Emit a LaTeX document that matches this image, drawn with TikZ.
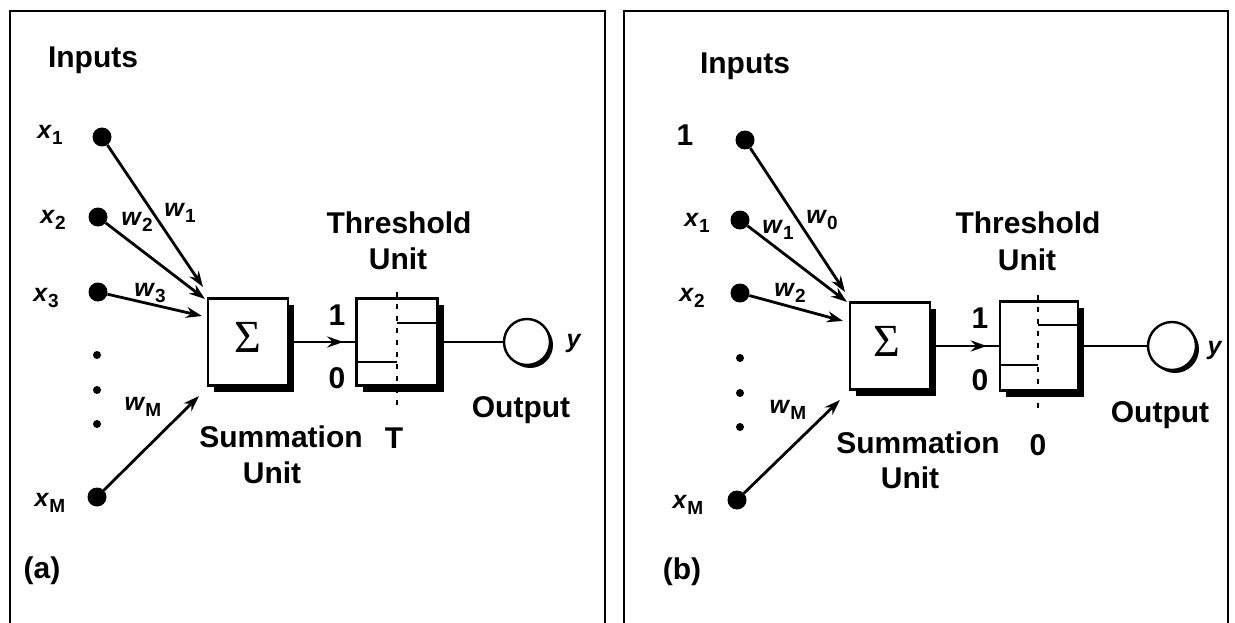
\documentclass[tikz,border=0pt]{standalone}
\usepackage{fontspec}
\setmainfont{Liberation Sans}
\newfontfamily\sigfont{Liberation Serif}
\usetikzlibrary{arrows.meta,shadows}
\newcommand{\vlab}[2]{\textit{#1}\raisebox{-6pt}{\fontsize{19}{19}\selectfont\upshape #2}}
\begin{document}
\begin{tikzpicture}[x=1pt,y=-1pt,
  lbl/.style={font=\fontsize{30}{32}\selectfont\bfseries, inner sep=0},
  vl/.style={font=\fontsize{25}{27}\selectfont\bfseries, inner sep=0},
  sig/.style={font=\fontsize{46}{46}\sigfont, inner sep=0},
  dotbig/.style={circle, fill, inner sep=0, minimum size=19pt},
  dotsmall/.style={circle, fill, inner sep=0, minimum size=8pt},
  conn/.style={line width=2.8pt},
  arr/.style={conn, -{Stealth[length=16pt,width=11pt]}},
  unitbox/.style={draw, line width=2.4pt, fill=white, inner sep=0,
    drop shadow={shadow xshift=6pt, shadow yshift=-6pt, fill=black, opacity=1}},
  outc/.style={circle, draw, line width=2.4pt, fill=white, inner sep=0, minimum size=46pt,
    drop shadow={shadow xshift=3pt, shadow yshift=-3pt, fill=black, opacity=1}},
  frame/.style={line width=2.2pt},
  thr/.style={line width=2.4pt, dash pattern=on 5pt off 7pt}
]
\useasboundingbox (0,0) rectangle (1235,623);
\fill[white] (0,0) rectangle (1235,623);
% frames
\draw[frame] (10,623) -- (10,11) -- (605,11) -- (605,623);
\draw[frame] (624,623) -- (624,11) -- (1228,11) -- (1228,623);

% ===== panel (a) =====
\node[lbl] (inA) at (93,60) {Inputs};
\node[dotbig] (a1) at (102,137) {};
\node[dotbig] (a2) at (98,217) {};
\node[dotbig] (a3) at (98,292) {};
\node[dotsmall] (ad1) at (97,355) {};
\node[dotsmall] (ad2) at (97,390) {};
\node[dotsmall] (ad3) at (97,424) {};
\node[dotbig] (aM) at (97,497) {};
\node[vl] (la1) at (50,135) {\vlab{x}{1}};
\node[vl] (la2) at (53,220) {\vlab{x}{2}};
\node[vl] (la3) at (46,298) {\vlab{x}{3}};
\node[vl] (laM) at (50,503) {\vlab{x}{M}};
\node[unitbox, minimum width=80pt, minimum height=87pt] (sa) at (248,342) {};
\node[sig] (sigA) at (248,337) {Σ};
\coordinate (ta1) at (203,287);
\coordinate (ta2) at (205,299);
\coordinate (ta3) at (202,316);
\coordinate (taM) at (199,396);
\draw[arr] (a1) -- (ta1);
\draw[arr] (a2) -- (ta2);
\draw[arr] (a3) -- (ta3);
\draw[arr] (aM) -- (taM);
\node[vl] (wa1) at (180,213) {\vlab{w}{1}};
\node[vl] (wa2) at (137,222) {\vlab{w}{2}};
\node[vl] (wa3) at (150,293) {\vlab{w}{3}};
\node[vl] (waM) at (143,407) {\vlab{w}{M}};
\node[lbl] (sumA1) at (281,437) {Summation};
\node[lbl] (sumA2) at (272,473) {Unit};
\node[unitbox, minimum width=81pt, minimum height=87pt] (tha) at (397,342) {};
\coordinate (thaTop) at (397,292);
\coordinate (thaBot) at (397,407);
\draw[thr] (thaTop) -- (thaBot);
\draw[conn] (tha.west |- 0,362) -- (397,362);
\draw[conn] (397,323) -- (tha.east |- 0,323);
\node[lbl] (thA1) at (399,223) {Threshold};
\node[lbl] (thA2) at (398,259) {Unit};
\node[lbl] (oneA) at (337,315) {1};
\node[lbl] (zeroA) at (337,378) {0};
\draw[conn] (sa.east) -- (tha.west);
\draw[arr, shorten >=12pt] (sa.east) -- (tha.west);
\node[outc] (oa) at (527,342) {};
\draw[conn] (tha.east) -- (oa.west);
\node[vl] (ya) at (574,343) {\textit{y}};
\node[lbl] (outA) at (521,410) {Output};
\node[lbl] (TA) at (394,438) {T};
\node[lbl] (capA) at (42,571) {(a)};

% ===== panel (b) =====
\node[lbl] (inB) at (745,66) {Inputs};
\node[dotbig] (b0) at (745,140) {};
\node[dotbig] (b1) at (740,220) {};
\node[dotbig] (b2) at (740,293) {};
\node[dotsmall] (bd1) at (740,358) {};
\node[dotsmall] (bd2) at (740,393) {};
\node[dotsmall] (bd3) at (740,427) {};
\node[dotbig] (bM) at (737,500) {};
\node[lbl] (lb0) at (685,135) {1};
\node[vl] (lb1) at (697,223) {\vlab{x}{1}};
\node[vl] (lb2) at (692,298) {\vlab{x}{2}};
\node[vl] (lbM) at (688,505) {\vlab{x}{M}};
\node[unitbox, minimum width=80pt, minimum height=87pt] (sb) at (890,346) {};
\node[sig] (sigB) at (887,341) {Σ};
\coordinate (tb0) at (845,292);
\coordinate (tb1) at (847,302);
\coordinate (tb2) at (843,321);
\coordinate (tbM) at (840,400);
\draw[arr] (b0) -- (tb0);
\draw[arr] (b1) -- (tb1);
\draw[arr] (b2) -- (tb2);
\draw[arr] (bM) -- (tbM);
\node[vl] (wb0) at (822,220) {\vlab{w}{0}};
\node[vl] (wb1) at (778,230) {\vlab{w}{1}};
\node[vl] (wb2) at (790,293) {\vlab{w}{2}};
\node[vl] (wbM) at (788,410) {\vlab{w}{M}};
\node[lbl] (sumB1) at (918,443) {Summation};
\node[lbl] (sumB2) at (910,478) {Unit};
\node[unitbox, minimum width=78pt, minimum height=89pt] (thb) at (1039,346) {};
\coordinate (thbTop) at (1038,295);
\coordinate (thbBot) at (1038,410);
\draw[thr] (thbTop) -- (thbBot);
\draw[conn] (thb.west |- 0,365) -- (1038,365);
\draw[conn] (1038,325) -- (thb.east |- 0,325);
\node[lbl] (thB1) at (1028,223) {Threshold};
\node[lbl] (thB2) at (1027,260) {Unit};
\node[lbl] (oneB) at (980,318) {1};
\node[lbl] (zeroB) at (980,380) {0};
\draw[conn] (sb.east) -- (thb.west);
\draw[arr, shorten >=12pt] (sb.east) -- (thb.west);
\node[outc, minimum size=48pt] (ob) at (1172,346) {};
\draw[conn] (thb.east) -- (ob.west);
\node[vl] (yb) at (1215,350) {\textit{y}};
\node[lbl] (outB) at (1160,415) {Output};
\node[lbl] (zB) at (1038,445) {0};
\node[lbl] (capB) at (682,572) {(b)};
\end{tikzpicture}
\end{document}
